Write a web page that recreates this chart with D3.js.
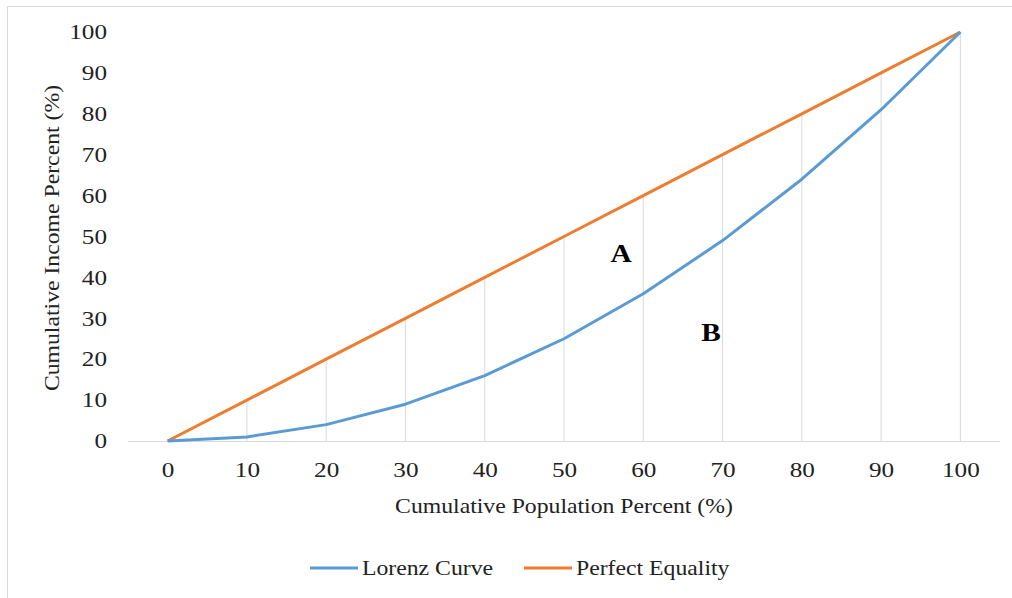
<!DOCTYPE html>
<html>
<head>
<meta charset="utf-8">
<script src="https://cdn.jsdelivr.net/npm/d3@7"></script>
<style>
  html, body { margin: 0; padding: 0; background: #fff; }
  svg { display: block; font-family: "Liberation Serif", "Times New Roman", serif; }
</style>
</head>
<body>
<svg id="chart" width="1012" height="598"></svg>
<script>
// Cumulative population share (%) — category axis
const populationPct = [0, 10, 20, 30, 40, 50, 60, 70, 80, 90, 100];
// Cumulative income share (%) for each series
const lorenzCurve = [0, 1, 4, 9, 16, 25, 36, 49, 64, 81, 100];
const perfectEquality = [0, 10, 20, 30, 40, 50, 60, 70, 80, 90, 100];
const yTicks = [0, 10, 20, 30, 40, 50, 60, 70, 80, 90, 100];
const seriesNames = ["Lorenz Curve", "Perfect Equality"];

const svg = d3.select("#chart");
const W = 1012, H = 598;
const plot = { left: 128, right: 1000, top: 32, bottom: 441 };
const textColor = "#222";
const wide = 1.13;      // horizontal stretch applied to the serif text
const wideTick = 1.2;

// Chart area border
svg.append("rect")
  .attr("x", 7.5).attr("y", 6.5)
  .attr("width", W + 20).attr("height", H + 20)
  .attr("fill", "#fff").attr("stroke", "#d9d9d9").attr("stroke-width", 1);

const x = d3.scalePoint().domain(populationPct).range([plot.left, plot.right]).padding(0.5);
const y = d3.scaleLinear().domain([0, 100]).range([plot.bottom, plot.top]);

// Drop lines from the upper series down to the category axis
const upper = populationPct.map((p, i) => Math.max(lorenzCurve[i], perfectEquality[i]));
svg.append("g").selectAll("line").data(populationPct).join("line")
  .attr("x1", d => x(d)).attr("x2", d => x(d))
  .attr("y1", (d, i) => y(upper[i])).attr("y2", y(0))
  .attr("stroke", "#d9d9d9").attr("stroke-width", 1);

// Horizontal axis
const xAxis = d3.axisBottom(x).tickSize(0).tickPadding(21);
const gx = svg.append("g").attr("transform", `translate(0,${y(0)})`).call(xAxis);
gx.select(".domain").attr("stroke", "#d9d9d9").attr("d", `M${plot.left},0.5H${plot.right}`);
gx.selectAll("text").attr("font-size", 21).attr("fill", textColor)
  .attr("font-family", "Liberation Serif").attr("transform", `scale(${wideTick},1)`);

// Vertical axis (labels only)
const yAxis = d3.axisLeft(y).tickValues(yTicks).tickSize(0).tickPadding(0);
const gy = svg.append("g").attr("transform", "translate(107,0)").call(yAxis);
gy.select(".domain").remove();
gy.selectAll("text").attr("font-size", 21).attr("fill", textColor)
  .attr("font-family", "Liberation Serif").attr("transform", `scale(${wideTick},1)`);

// Series lines
const line = d3.line().x((d, i) => x(populationPct[i])).y(d => y(d));
svg.append("path").datum(perfectEquality).attr("d", line)
  .attr("fill", "none").attr("stroke", "#ED7D31").attr("stroke-width", 3).attr("stroke-linejoin", "round");
svg.append("path").datum(lorenzCurve).attr("d", line)
  .attr("fill", "none").attr("stroke", "#5B9BD5").attr("stroke-width", 3).attr("stroke-linejoin", "round");

// Helper: stretched text placed at (px, py)
function label(px, py, str, opts = {}) {
  const g = svg.append("g").attr("transform", `translate(${px},${py}) ${opts.rotate ? "rotate(-90)" : ""} scale(${wide},1)`);
  return g.append("text")
    .attr("text-anchor", opts.anchor || "middle")
    .attr("font-size", opts.size || 21)
    .attr("font-weight", opts.bold ? "bold" : "normal")
    .attr("fill", opts.color || textColor)
    .text(str);
}

// Region labels
label(621, 262, "A", { size: 26, bold: true, color: "#000" });
label(711, 341, "B", { size: 26, bold: true, color: "#000" });

// Axis titles
label(564, 513, "Cumulative Population Percent (%)");
label(59, 238, "Cumulative Income Percent (%)", { rotate: true });

// Legend
const legendColors = ["#5B9BD5", "#ED7D31"];
const legendX = [310, 524];
const lg = svg.append("g").selectAll("g").data(seriesNames).join("g")
  .attr("transform", (d, i) => `translate(${legendX[i]},568)`);
lg.append("line").attr("x1", 0).attr("x2", 48).attr("y1", 0).attr("y2", 0)
  .attr("stroke", (d, i) => legendColors[i]).attr("stroke-width", 3);
lg.append("text").attr("transform", `translate(52,7) scale(${wide},1)`)
  .attr("font-size", 21).attr("fill", textColor).text(d => d);
</script>
</body>
</html>
